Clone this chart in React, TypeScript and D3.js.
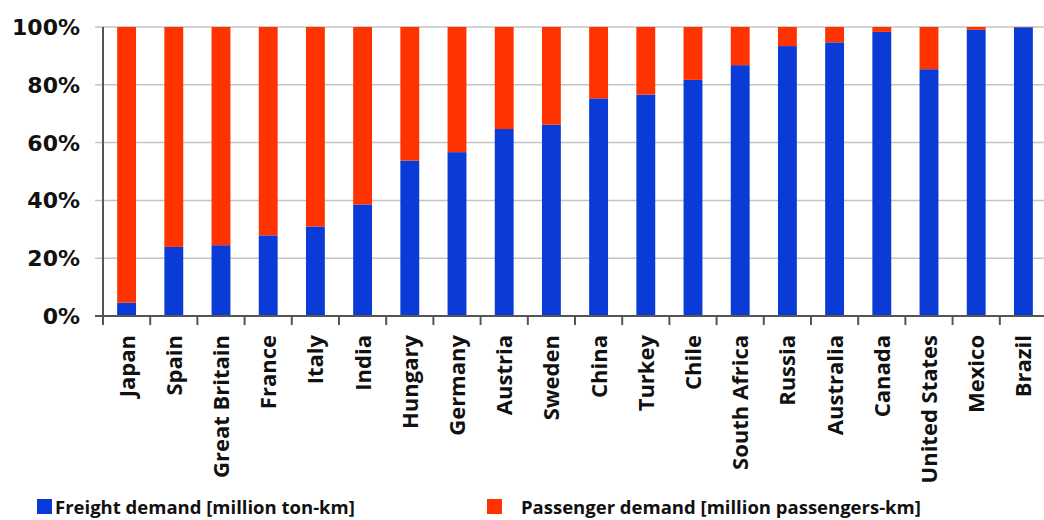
import * as d3 from "d3";

const countries = [
  "Japan", "Spain", "Great Britain", "France", "Italy", "India", "Hungary",
  "Germany", "Austria", "Sweden", "China", "Turkey", "Chile", "South Africa",
  "Russia", "Australia", "Canada", "United States", "Mexico", "Brazil",
];
// freight share in percent; passenger share is the remainder
const freight = [
  4.6, 23.9, 24.5, 27.9, 31.0, 38.6, 53.8, 56.7, 64.7, 66.2, 75.3, 76.6,
  81.7, 86.8, 93.4, 94.7, 98.3, 85.4, 99.0, 99.9,
];
const yTicks = [0, 20, 40, 60, 80, 100];
const legendItems = [
  "Freight demand [million ton-km]",
  "Passenger demand [million passengers-km]",
];

const W = 1044;
const H = 520;
const BLUE = "#0b3bd6";
const RED = "#ff3300";

export default function App() {
  const left = 103;
  const bottom = 316;
  const top = 27;

  const x = d3
    .scaleBand<string>()
    .domain(countries)
    .range([left, 1047])
    .paddingInner(0.6)
    .paddingOuter(0.3);
  const y = d3.scaleLinear().domain([0, 100]).range([bottom, top]);
  const step = x.step();

  const rows = countries.map((c, i) => ({
    country: c,
    freight: freight[i],
    passenger: 100 - freight[i],
  }));
  const stacked = d3.stack<any>().keys(["freight", "passenger"])(rows);
  const colors = [BLUE, RED];

  return (
    <svg
      width={W}
      height={H}
      style={{ position: "absolute", left: 0, top: 0, background: "#fff" }}
    >
      {yTicks.map((t) => (
        <g key={t}>
          <line
            x1={left - 8}
            x2={W}
            y1={y(t)}
            y2={y(t)}
            stroke={t === 0 ? "#555" : "#c4c4c4"}
            strokeWidth={t === 0 ? 2 : 1.5}
          />
          <text
            x={80}
            y={y(t)}
            dy="0.36em"
            textAnchor="end"
            fontFamily="DejaVu Sans"
            fontWeight="bold"
            fontSize={22}
            fill="#111"
          >
            {`${t}%`}
          </text>
        </g>
      ))}

      {stacked.map((layer, k) =>
        layer.map((d, i) => (
          <rect
            key={`${k}-${i}`}
            x={x(countries[i])}
            width={x.bandwidth()}
            y={y(d[1])}
            height={y(d[0]) - y(d[1])}
            fill={colors[k]}
          />
        ))
      )}

      <line x1={left} x2={left} y1={top} y2={bottom + 9} stroke="#555" strokeWidth={2} />
      <line x1={left} x2={W} y1={bottom} y2={bottom} stroke="#555" strokeWidth={2} />
      {countries.map((c, i) => (
        <line
          key={c}
          x1={left + (i + 1) * step}
          x2={left + (i + 1) * step}
          y1={bottom}
          y2={bottom + 9}
          stroke="#555"
          strokeWidth={2}
        />
      ))}

      {countries.map((c) => {
        const cx = (x(c) as number) + x.bandwidth() / 2;
        return (
          <text
            key={c}
            transform={`translate(${cx},335) rotate(-90)`}
            dy="0.36em"
            textAnchor="end"
            fontFamily="Open Sans"
            fontWeight="bold"
            fontSize={22}
            fill="#111"
          >
            {c}
          </text>
        );
      })}

      <g fontFamily="Open Sans" fontWeight="bold" fontSize={18.5} fill="#111">
        <rect x={37} y={499} width={15} height={15} fill={BLUE} />
        <text x={55} y={514}>{legendItems[0]}</text>
        <rect x={487} y={499} width={15} height={15} fill={RED} />
        <text x={521} y={514}>{legendItems[1]}</text>
      </g>
    </svg>
  );
}
